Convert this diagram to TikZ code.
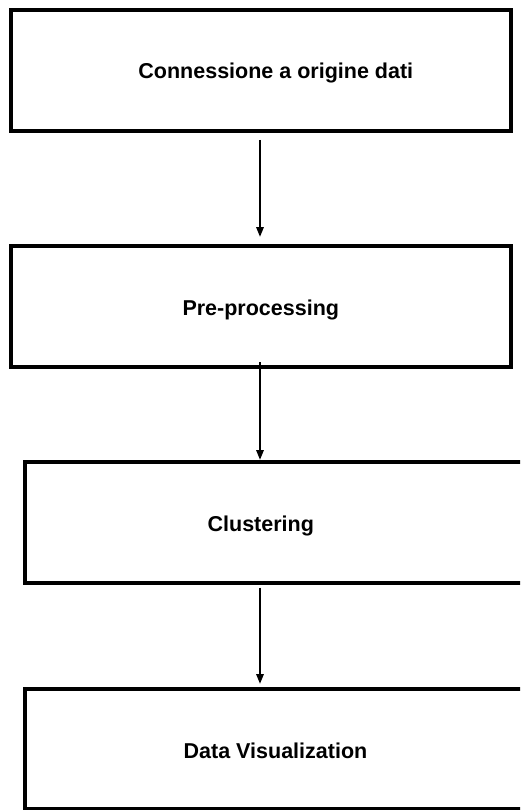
\documentclass[tikz,border=0pt]{standalone}
\usepackage{fontspec}
\setmainfont{Liberation Sans}
\usetikzlibrary{arrows.meta}
\begin{document}
\begin{tikzpicture}[x=1pt,y=-1pt,
  stepbox/.style={draw=black, line width=4pt, fill=white, inner sep=0pt, outer sep=0pt},
  lbl/.style={anchor=base, inner sep=0pt, font=\fontsize{21.5}{26}\selectfont\bfseries},
  arr/.style={draw=black, line width=1.1pt, -{Triangle[length=9.5pt,width=7.5pt]}}]
\useasboundingbox (0,0) rectangle (520,810);
\fill[white] (0,0) rectangle (520,810);
\begin{scope}
\clip (0,0) rectangle (520,810);
\node[stepbox, minimum width=500.5pt, minimum height=120.5pt] (b1) at (260.75,70.75) {};
\node[stepbox, minimum width=500.5pt, minimum height=121.5pt] (b2) at (260.75,306.5) {};
\node[stepbox, minimum width=510pt, minimum height=121pt] (b3) at (280,522.2) {};
\node[stepbox, minimum width=510pt, minimum height=120pt] (b4) at (280,748.7) {};
\end{scope}
\node[lbl] (t1) at (275.8,79) {Connessione a origine dati};
\node[lbl] (t2) at (260.8,315) {Pre-processing};
\node[lbl] (t3) at (260.8,531) {Clustering};
\node[lbl] (t4) at (275.5,758.3) {Data Visualization};
\coordinate (ax) at (260,0);
\draw[arr] ([yshift=-9pt]b1.south -| ax) -- ([yshift=9pt]b2.north -| ax);
\draw[arr] ([yshift=5pt]b2.south -| ax) -- ([yshift=2pt]b3.north -| ax);
\draw[arr] ([yshift=-5pt]b3.south -| ax) -- ([yshift=5pt]b4.north -| ax);
\end{tikzpicture}
\end{document}
